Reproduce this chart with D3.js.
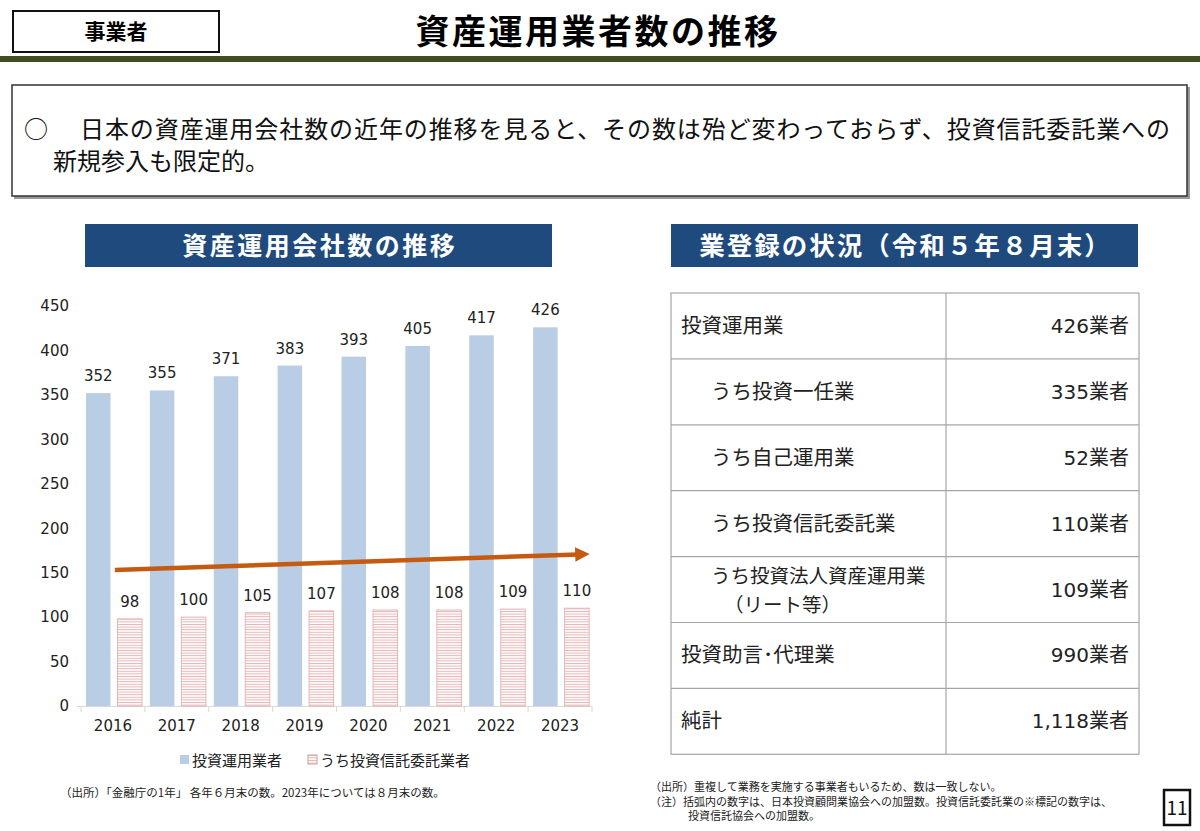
<!DOCTYPE html>
<html>
<head>
<meta charset="utf-8">
<script src="https://cdn.jsdelivr.net/npm/d3@7"></script>
<style>
  body { margin: 0; background: #fff; }
  svg { display: block; }
  .jp { font-family: "Noto Sans CJK JP", "Noto Sans", sans-serif; }
  .num { font-family: "DejaVu Sans", sans-serif; }
  .mix { font-family: "DejaVu Sans", "Noto Sans CJK JP", sans-serif; }
</style>
</head>
<body>
<svg id="chart"></svg>
<script>
// chart data
var years = ["2016", "2017", "2018", "2019", "2020", "2021", "2022", "2023"]
var totalFirms = [352, 355, 371, 383, 393, 405, 417, 426]
var trustFirms = [98, 100, 105, 107, 108, 108, 109, 110]
var seriesNames = ["投資運用業者", "うち投資信託委託業者"]
var yTicks = [0, 50, 100, 150, 200, 250, 300, 350, 400, 450]
// trend arrow: [year, position inside band, value]
var arrowStart = ["2016", 0.53, 153]
var arrowEnd = ["2023", 0.97, 171]

// table data
var tableLabels = ["投資運用業", "うち投資一任業", "うち自己運用業", "うち投資信託委託業",
  "うち投資法人資産運用業", "投資助言・代理業", "純計"]
var tableSub = ["", "", "", "", "（リート等）", "", ""]
var tableValues = ["426業者", "335業者", "52業者", "110業者", "109業者", "990業者", "1,118業者"]
var tableIndent = [0, 1, 1, 1, 1, 0, 0]

var width = 1200, height = 831
var svg = d3.select("#chart").attr("width", width).attr("height", height)

// ---- page header ----
svg.append("rect").attr("x", 13).attr("y", 11).attr("width", 206).attr("height", 41)
  .attr("fill", "#fff").attr("stroke", "#111").attr("stroke-width", 2)
svg.append("text").attr("class", "jp").attr("x", 116).attr("y", 39)
  .attr("text-anchor", "middle").attr("font-size", 21).attr("font-weight", "bold")
  .text("事業者")
svg.append("text").attr("class", "jp").attr("x", 598).attr("y", 44)
  .attr("text-anchor", "middle").attr("font-size", 34).attr("font-weight", "bold")
  .attr("letter-spacing", 2.5).text("資産運用業者数の推移")
svg.append("rect").attr("x", 0).attr("y", 56).attr("width", width).attr("height", 6)
  .attr("fill", "#414f20")

// summary box
svg.append("rect").attr("x", 14).attr("y", 87).attr("width", 1176).attr("height", 112)
  .attr("fill", "#9a9a9a")
svg.append("rect").attr("x", 12).attr("y", 85).attr("width", 1175).attr("height", 111)
  .attr("fill", "#fff").attr("stroke", "#333").attr("stroke-width", 1.5)
svg.append("text").attr("class", "jp").attr("x", 24).attr("y", 138)
  .attr("font-size", 24).attr("fill", "#111").text("○")
svg.append("text").attr("class", "jp").attr("x", 80).attr("y", 138)
  .attr("font-size", 24).attr("fill", "#111")
  .attr("textLength", 1090).attr("lengthAdjust", "spacing")
  .text("日本の資産運用会社数の近年の推移を見ると、その数は殆ど変わっておらず、投資信託委託業への")
svg.append("text").attr("class", "jp").attr("x", 53).attr("y", 170)
  .attr("font-size", 24).attr("fill", "#111").text("新規参入も限定的。")

// section headers
function header(x, w, label, fs, ls) {
  svg.append("rect").attr("x", x).attr("y", 224).attr("width", w).attr("height", 43)
    .attr("fill", "#1f4a7e")
  svg.append("text").attr("class", "jp").attr("x", x + w / 2 + ls / 2).attr("y", 255)
    .attr("text-anchor", "middle").attr("font-size", fs).attr("font-weight", "bold")
    .attr("letter-spacing", ls).attr("fill", "#fff").text(label)
}
header(85, 467, "資産運用会社数の推移", 25, 2.5)
header(671, 467, "業登録の状況（令和５年８月末）", 25.5, 2)

// ---- bar chart ----
var defs = svg.append("defs")
var pat = defs.append("pattern").attr("id", "stripes").attr("patternUnits", "userSpaceOnUse")
  .attr("width", 6).attr("height", 2.6)
pat.append("rect").attr("width", 6).attr("height", 2.6).attr("fill", "#fff")
pat.append("rect").attr("width", 6).attr("height", 1).attr("fill", "#e8b4b3")

defs.append("marker").attr("id", "arrowhead").attr("viewBox", "0 0 10 10")
  .attr("refX", 2).attr("refY", 5).attr("markerWidth", 3.2).attr("markerHeight", 3.2)
  .attr("orient", "auto")
  .append("path").attr("d", "M0,0 L10,5 L0,10 z").attr("fill", "#c55a11")

var xScale = d3.scaleBand().domain(years).range([81, 592])
var x1 = d3.scaleBand().domain([0, 1]).range([5, 61]).paddingInner(0.222)
var yScale = d3.scaleLinear().domain([0, 450]).range([706, 306])

var yAxis = svg.append("g").attr("transform", "translate(69,0)")
  .call(d3.axisLeft(yScale).tickValues(yTicks).tickSize(0).tickPadding(0))
yAxis.select(".domain").remove()
yAxis.selectAll("text").attr("class", "num").attr("font-size", 15).attr("fill", "#222")

var xAxis = svg.append("g").attr("transform", `translate(0,${yScale(0)})`)
  .call(d3.axisBottom(xScale).tickSize(0).tickPadding(14))
xAxis.select(".domain").attr("stroke", "#d9d9d9").attr("d", "M77,0.5H592")
xAxis.selectAll("text").attr("class", "num").attr("font-size", 15).attr("fill", "#222")
svg.append("g").selectAll("line").data(years.concat(["end"])).join("line")
  .attr("x1", (d, i) => i < years.length ? xScale(d) : 592)
  .attr("x2", (d, i) => i < years.length ? xScale(d) : 592)
  .attr("y1", yScale(0)).attr("y2", yScale(0) + 6)
  .attr("stroke", "#d9d9d9")

var data = years.map((y, i) => ({ year: y, vals: [totalFirms[i], trustFirms[i]] }))
var groups = svg.append("g").selectAll("g").data(data).join("g")
  .attr("transform", d => `translate(${xScale(d.year)},0)`)
groups.selectAll("rect").data(d => d.vals.map((v, k) => ({ k: k, v: v }))).join("rect")
  .attr("x", d => x1(d.k)).attr("width", x1.bandwidth())
  .attr("y", d => yScale(d.v)).attr("height", d => yScale(0) - yScale(d.v))
  .attr("fill", d => d.k == 0 ? "#b9cde5" : "url(#stripes)")
  .attr("stroke", d => d.k == 0 ? "none" : "#e0b8b8").attr("stroke-width", 1)
groups.selectAll("text").data(d => d.vals.map((v, k) => ({ k: k, v: v }))).join("text")
  .attr("class", "num").attr("font-size", 15).attr("fill", "#222")
  .attr("text-anchor", "middle")
  .attr("x", d => x1(d.k) + x1.bandwidth() / 2)
  .attr("y", d => yScale(d.v) - 12)
  .text(d => d.v)

// trend arrow
var ax = a => xScale(a[0]) + a[1] * xScale.bandwidth()
svg.append("line")
  .attr("x1", ax(arrowStart)).attr("y1", yScale(arrowStart[2]))
  .attr("x2", ax(arrowEnd) - 12).attr("y2", yScale(arrowEnd[2]) + 0.4)
  .attr("stroke", "#c55a11").attr("stroke-width", 4.5)
  .attr("marker-end", "url(#arrowhead)")

// legend
var legend = svg.append("g").attr("transform", "translate(180,760)")
var legX = [0, 128]
seriesNames.forEach((name, k) => {
  legend.append("rect").attr("x", legX[k]).attr("y", -5).attr("width", 9).attr("height", 9)
    .attr("fill", k == 0 ? "#b9cde5" : "url(#stripes)")
    .attr("stroke", k == 0 ? "none" : "#c9a0a0")
  legend.append("text").attr("class", "jp").attr("x", legX[k] + 12).attr("y", 6)
    .attr("font-size", 15).attr("fill", "#222").text(name)
})

svg.append("text").attr("class", "jp").attr("x", 60).attr("y", 797)
  .attr("font-size", 11.5).attr("fill", "#222")
  .text("（出所）「金融庁の1年」 各年６月末の数。2023年については８月末の数。")

// ---- table ----
var tTop = 293, rowH = 65.9, tLeft = 671, tMid = 946, tRight = 1139
var tbl = svg.append("g")
tbl.append("rect").attr("x", tLeft).attr("y", tTop).attr("width", tRight - tLeft)
  .attr("height", rowH * tableLabels.length)
  .attr("fill", "none").attr("stroke", "#a6a6a6").attr("stroke-width", 1.2)
tbl.append("line").attr("x1", tMid).attr("x2", tMid).attr("y1", tTop)
  .attr("y2", tTop + rowH * tableLabels.length).attr("stroke", "#a6a6a6").attr("stroke-width", 1.2)
tbl.selectAll("line.row").data(tableLabels.slice(1)).join("line").attr("class", "row")
  .attr("x1", tLeft).attr("x2", tRight)
  .attr("y1", (d, i) => tTop + rowH * (i + 1)).attr("y2", (d, i) => tTop + rowH * (i + 1))
  .attr("stroke", "#a6a6a6").attr("stroke-width", 1.2)
tableLabels.forEach((lab, i) => {
  var cy = tTop + rowH * i + rowH / 2
  var two = tableSub[i] != ""
  tbl.append("text").attr("class", "jp").attr("x", tLeft + 10 + tableIndent[i] * 30)
    .attr("y", two ? cy - 7 : cy + 7).attr("font-size", two ? 19.5 : 20.5).attr("fill", "#222")
    .text(lab.replace("・", "･"))
  if (two) {
    tbl.append("text").attr("class", "jp").attr("x", tLeft + 53)
      .attr("y", cy + 22).attr("font-size", 19.5).attr("fill", "#222").text(tableSub[i])
  }
  tbl.append("text").attr("class", "mix").attr("x", tRight - 10).attr("y", cy + 7)
    .attr("text-anchor", "end").attr("font-size", 20).attr("fill", "#222").text(tableValues[i])
})

var notes = ["（出所）重複して業務を実施する事業者もいるため、数は一致しない。",
  "（注）括弧内の数字は、日本投資顧問業協会への加盟数。投資信託委託業の※標記の数字は、"]
notes.forEach((n, i) => {
  svg.append("text").attr("class", "jp").attr("x", 650).attr("y", 791 + i * 14.5)
    .attr("font-size", 11).attr("fill", "#222").text(n)
})
svg.append("text").attr("class", "jp").attr("x", 688).attr("y", 820)
  .attr("font-size", 11).attr("fill", "#222").text("投資信託協会への加盟数。")

// page number
svg.append("rect").attr("x", 1164).attr("y", 790).attr("width", 26).attr("height", 35)
  .attr("fill", "#fff").attr("stroke", "#111").attr("stroke-width", 2.5)
svg.append("text").attr("class", "jp").attr("x", 1177).attr("y", 815)
  .attr("text-anchor", "middle").attr("font-size", 19).attr("fill", "#111").text("11")
</script>
</body>
</html>
